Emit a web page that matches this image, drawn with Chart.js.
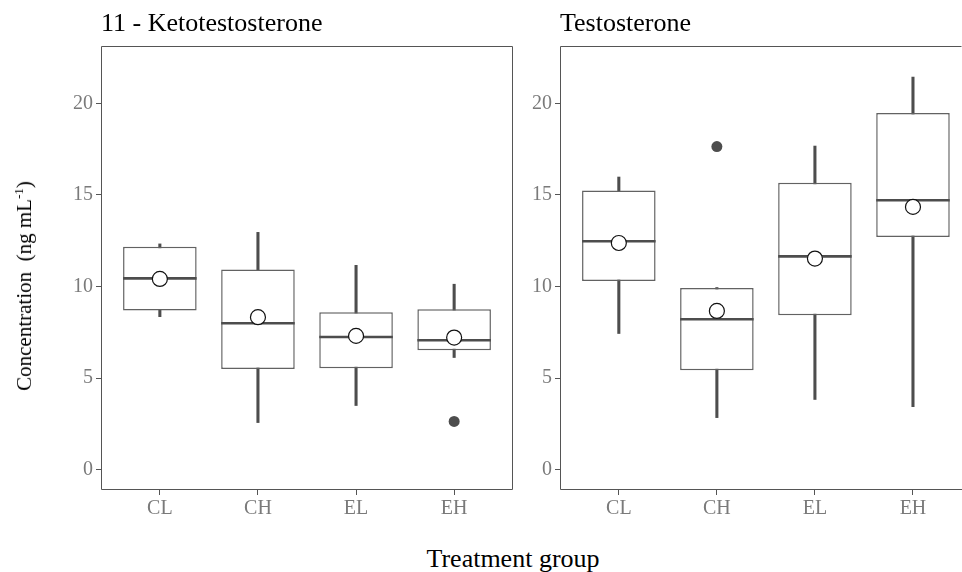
<!DOCTYPE html>
<html>
<head>
<meta charset="utf-8">
<script src="https://cdn.jsdelivr.net/npm/chart.js@4.4.0/dist/chart.umd.min.js"></script>
<style>
  body { margin: 0; background: #fff; }
  #wrap { position: relative; width: 962px; height: 572px; overflow: hidden; font-family: 'Liberation Serif', serif; }
  canvas { position: absolute; top: 0; }
  #ytitle { position: absolute; left: 24px; top: 286px; transform: translate(-50%, -50%) rotate(-90deg);
            font-size: 21px; white-space: nowrap; color: #000; }
  #ytitle sup { font-size: 13px; }
  #xtitle { position: absolute; left: 513px; top: 544px; transform: translateX(-50%);
            font-size: 26px; white-space: nowrap; color: #000; }
</style>
</head>
<body>
<div id="wrap">
  <canvas id="keto" width="520" height="530" style="left:0"></canvas>
  <canvas id="testo" width="442" height="530" style="left:520px"></canvas>
  <div id="ytitle">Concentration&nbsp;&nbsp;(ng mL<sup>-1</sup>)</div>
  <div id="xtitle">Treatment group</div>
</div>
<script>
var categories = ['CL', 'CH', 'EL', 'EH'];
var yTicks = [0, 5, 10, 15, 20];

// 11 - Ketotestosterone
var ketoMin    = [8.36, 2.58, 3.51, 6.13];
var ketoQ1     = [8.69, 5.51, 5.55, 6.53];
var ketoMedian = [10.45, 8.0, 7.25, 7.07];
var ketoQ3     = [12.18, 10.93, 8.6, 8.76];
var ketoMax    = [12.33, 12.96, 11.16, 10.13];
var ketoMean   = [10.42, 8.33, 7.31, 7.22];
var ketoOutliers = [[], [], [], [2.64]];

// Testosterone
var testoMin    = [7.44, 2.85, 3.84, 3.45];
var testoQ1     = [10.31, 5.44, 8.44, 12.71];
var testoMedian = [12.47, 8.22, 11.65, 14.71];
var testoQ3     = [15.25, 9.93, 15.67, 19.47];
var testoMax    = [15.98, 9.95, 17.67, 21.44];
var testoMean   = [12.38, 8.67, 11.53, 14.35];
var testoOutliers = [[], [17.64], [], []];

var FONT = 'Liberation Serif';
var DARK = '#4d4d4d';

// box around the panel
var panelBorder = {
    id: 'panelBorder',
    afterDraw: function (chart, args, opts) {
        var a = chart.chartArea, c = chart.ctx;
        c.save();
        c.strokeStyle = '#555';
        c.lineWidth = 1;
        c.beginPath();
        c.moveTo(a.left + 0.5, a.bottom - 0.5);
        c.lineTo(a.left + 0.5, a.top + 0.5);
        c.lineTo(a.right - 0.5, a.top + 0.5);
        if (opts.right) c.lineTo(a.right - 0.5, a.bottom - 0.5);
        else c.moveTo(a.right, a.bottom - 0.5);
        c.lineTo(a.left + 0.5, a.bottom - 0.5);
        c.stroke();
        c.restore();
    }
};

function makePanel(id, title, mn, q1, med, q3, mx, mean, outl, xMax, yWidth, padRight, rightBorder) {
    var whiskers = categories.map(function (c, i) { return { x: i, y: [mn[i], mx[i]] }; });
    var boxes = categories.map(function (c, i) { return { x: i, y: [q1[i], q3[i]] }; });
    var medians = categories.map(function (c, i) { return { x: i, y: [med[i] - 0.07, med[i] + 0.07] }; });
    var means = categories.map(function (c, i) { return { x: i, y: mean[i] }; });
    var outPts = [];
    outl.forEach(function (list, i) { list.forEach(function (v) { outPts.push({ x: i, y: v }); }); });

    return new Chart(document.getElementById(id).getContext('2d'), {
        type: 'bar',
        data: {
            datasets: [
                { type: 'line', data: means, showLine: false, order: 0,
                  pointRadius: 7.5, pointBackgroundColor: '#fff', pointBorderColor: '#111', pointBorderWidth: 1.2 },
                { type: 'line', data: outPts, showLine: false, order: 1,
                  pointRadius: 5.5, pointBackgroundColor: DARK, pointBorderColor: DARK, pointBorderWidth: 0 },
                { data: medians, order: 2, grouped: false, backgroundColor: DARK, borderWidth: 0,
                  barPercentage: 0.75, categoryPercentage: 1 },
                { data: boxes, order: 3, grouped: false, backgroundColor: '#fff', borderColor: '#626262',
                  borderWidth: 1.5, borderSkipped: false, barPercentage: 0.75, categoryPercentage: 1 },
                { data: whiskers, order: 4, grouped: false, backgroundColor: DARK, borderWidth: 0,
                  barThickness: 2.4 }
            ]
        },
        options: {
            responsive: false,
            animation: false,
            layout: { autoPadding: false, padding: { left: 0, right: padRight, top: 0, bottom: 0 } },
            plugins: {
                legend: { display: false },
                tooltip: { enabled: false },
                title: {
                    display: true, text: title, align: 'start', fullSize: false, color: '#000',
                    font: { family: FONT, size: 26, weight: 'normal', lineHeight: 1 },
                    padding: { top: 11, bottom: 9 }
                },
                panelBorder: { right: rightBorder }
            },
            scales: {
                x: {
                    type: 'linear', min: -0.6, max: xMax, offset: false,
                    afterBuildTicks: function (s) { s.ticks = categories.map(function (c, i) { return { value: i }; }); },
                    afterFit: function (s) { s.height = 40; s.paddingLeft = 0; s.paddingRight = 0; },
                    ticks: {
                        color: '#7a7a7a', padding: 2,
                        font: { family: FONT, size: 20 },
                        callback: function (v) { return categories[v]; }
                    },
                    grid: { offset: false, drawOnChartArea: false, drawTicks: true, tickLength: 5, color: '#555' },
                    border: { display: false }
                },
                y: {
                    min: -1.1, max: 23.13,
                    afterBuildTicks: function (s) { s.ticks = yTicks.map(function (v) { return { value: v }; }); },
                    afterFit: function (s) { s.width = yWidth; },
                    ticks: { color: '#7a7a7a', padding: 3, font: { family: FONT, size: 20 } },
                    grid: { drawOnChartArea: false, drawTicks: true, tickLength: 5, color: '#555' },
                    border: { display: false }
                }
            }
        },
        plugins: [panelBorder]
    });
}

makePanel('keto', '11 - Ketotestosterone', ketoMin, ketoQ1, ketoMedian, ketoQ3, ketoMax, ketoMean, ketoOutliers,
          3.6, 101, 7, true);
makePanel('testo', 'Testosterone', testoMin, testoQ1, testoMedian, testoQ3, testoMax, testoMean, testoOutliers,
          3.5, 40, 0, false);
</script>
</body>
</html>
